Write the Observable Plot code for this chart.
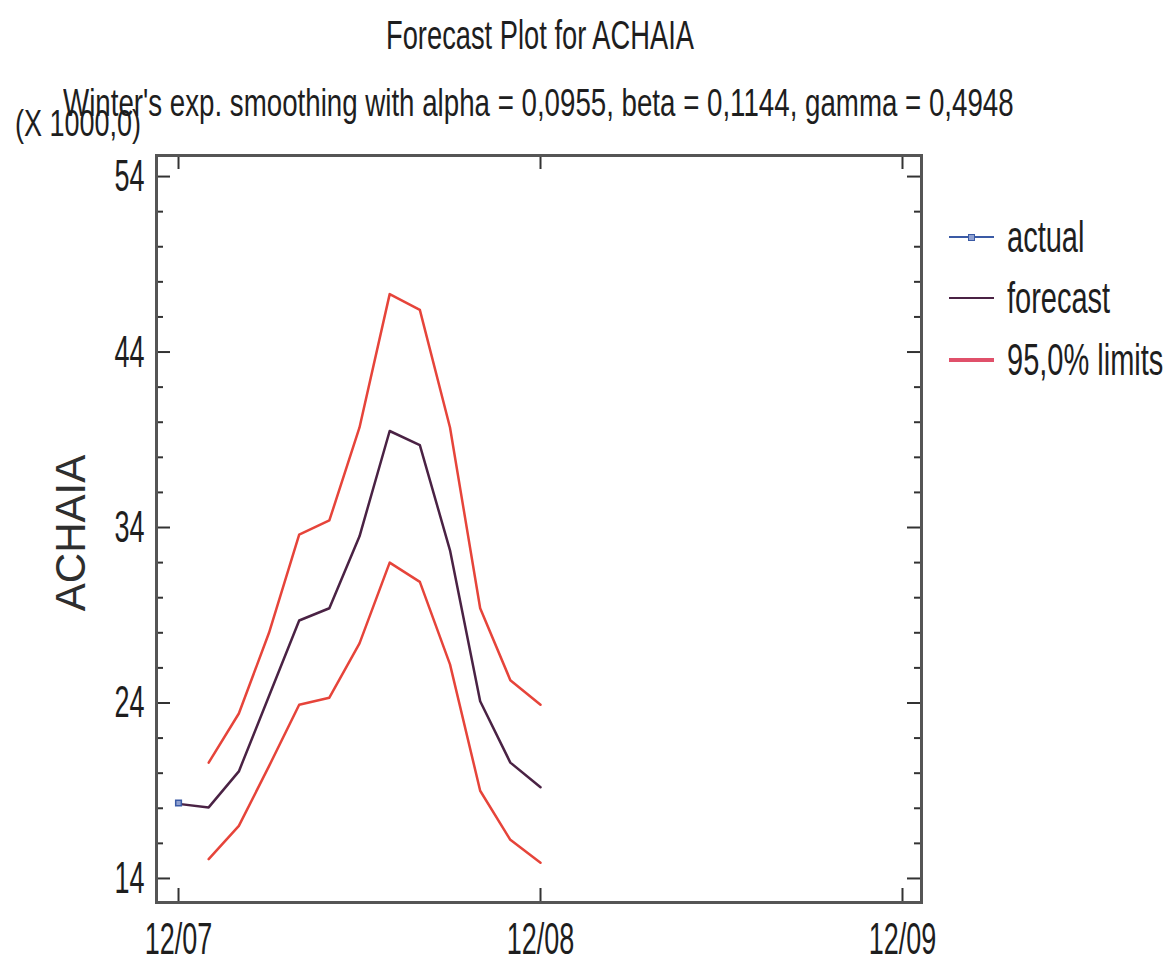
<!DOCTYPE html>
<html><head><meta charset="utf-8">
<script src="https://cdn.jsdelivr.net/npm/d3@7"></script>
<script src="https://cdn.jsdelivr.net/npm/@observablehq/plot@0.6"></script>
<style>
body{margin:0;background:#fff;font-family:"Liberation Sans",Arial,sans-serif;}
#wrap{position:relative;width:1176px;height:972px;overflow:hidden;background:#fff}
.t{position:absolute;white-space:nowrap;color:#1e1e1e;line-height:1;transform-origin:center center;}
.sw{position:absolute;height:0;}
#chart{position:absolute;left:0;top:140px;}
</style></head><body><div id="wrap">
<div class="t" id="title" style="left:540px;top:21px;font-size:27.3px;transform:translateX(-50%) scaleY(1.5)">Forecast Plot for ACHAIA</div>
<div class="t" id="xunit" style="left:15px;top:111px;font-size:27px;transform:scaleY(1.4);transform-origin:left center">(X 1000,0)</div>
<div class="t" id="subtitle" style="left:63px;top:89px;font-size:27.7px;transform:scaleY(1.4);transform-origin:left center">Winter's exp. smoothing with alpha = 0,0955, beta = 0,1144, gamma = 0,4948</div>
<div class="t" id="ylabel" style="left:71px;top:533px;font-size:42px;color:#2e2e2e;transform:translate(-50%,-50%) rotate(-90deg)">ACHAIA</div>
<div id="chart"></div>
<div id="legend"></div>
</div>
<script>
// ---- data ----
const monthIndex   = [0, 1, 2, 3, 4, 5, 6, 7, 8, 9, 10, 11, 12];
const actualMonth  = [0];
const actualValues = [18.3];
const forecast     = [18.25, 18.05, 20.1, 24.4, 28.7, 29.4, 33.5, 39.5, 38.7, 32.7, 24.1, 20.6, 19.2];
const upperLimit   = [null, 20.6, 23.4, 28.0, 33.6, 34.4, 39.7, 47.3, 46.4, 39.7, 29.4, 25.3, 23.9];
const lowerLimit   = [null, 15.1, 17.0, 20.4, 23.9, 24.3, 27.4, 32.0, 30.9, 26.2, 19.0, 16.2, 14.9];
const xTickPos     = [0, 12, 24];
const xTickLabels  = ["12/07", "12/08", "12/09"];
const yMajorTicks  = [14, 24, 34, 44, 54];
const yMinorTicks  = [16, 18, 20, 22, 26, 28, 30, 32, 36, 38, 40, 42, 46, 48, 50, 52];
const seriesNames  = ["actual", "forecast", "95,0% limits"];

// ---- styles ----
const colActual = "#3a5aa5", colForecast = "#4a2244", colLimits = "#e6443a", colLegendLimits = "#e0506a";
const W = 1176, H = 832, mL = 156, mR = 255, mT = 15, mB = 70;
const innerW = W - mL - mR, innerH = H - mT - mB;

const rows = arr => monthIndex.map((m, i) => ({m, v: arr[i]}));
const actualRows = actualMonth.map((m, i) => ({m, v: actualValues[i]}));

const plot = Plot.plot({
  width: W, height: H,
  marginLeft: mL, marginRight: mR, marginTop: mT, marginBottom: mB,
  style: {color: "#1e1e1e", fontFamily: "'Liberation Sans', Arial, sans-serif", background: "transparent"},
  x: {type: "linear", domain: [-0.73, 24.63]},
  y: {type: "linear", domain: [12.63, 55.2]},
  marks: [
    Plot.tickY(yMajorTicks, {y: d => d, insetRight: innerW - 14, stroke: "#333", strokeWidth: 2}),
    Plot.tickY(yMajorTicks, {y: d => d, insetLeft: innerW - 14, stroke: "#333", strokeWidth: 2}),
    Plot.tickY(yMinorTicks, {y: d => d, insetRight: innerW - 7, stroke: "#333", strokeWidth: 2}),
    Plot.tickY(yMinorTicks, {y: d => d, insetLeft: innerW - 7, stroke: "#333", strokeWidth: 2}),
    Plot.tickX(xTickPos, {x: d => d, insetTop: innerH - 14, stroke: "#333", strokeWidth: 2}),
    Plot.tickX(xTickPos, {x: d => d, insetBottom: innerH - 14, stroke: "#333", strokeWidth: 2}),
    Plot.line(rows(upperLimit), {x: "m", y: "v", stroke: colLimits, strokeWidth: 2.5}),
    Plot.line(rows(lowerLimit), {x: "m", y: "v", stroke: colLimits, strokeWidth: 2.5}),
    Plot.line(rows(forecast), {x: "m", y: "v", stroke: colForecast, strokeWidth: 2.5}),
    Plot.line(actualRows, {x: "m", y: "v", stroke: colActual, strokeWidth: 2}),
    Plot.dot(actualRows, {x: "m", y: "v", symbol: "square", r: 3.2, stroke: colActual, fill: "#8fa0d0", strokeWidth: 1.5}),
    Plot.frame({stroke: "#555", strokeWidth: 3}),
    Plot.axisY({ticks: yMajorTicks, tickSize: 0, tickPadding: 12, fontSize: 27, label: null, tickFormat: d => String(d)}),
    Plot.axisX({ticks: xTickPos, tickSize: 0, tickPadding: 26, fontSize: 27, label: null,
                tickFormat: d => xTickLabels[xTickPos.indexOf(d)]})
  ]
});
document.getElementById("chart").appendChild(plot);

// stretch tick labels vertically (about their own centre) to match the reference's tall glyphs
function stretch(nodes, sy) {
  for (const t of Array.from(nodes)) {
    const parent = t.parentNode;
    const r = t.getBoundingClientRect();
    const inv = parent.getScreenCTM().inverse();
    const p = new DOMPoint(r.x + r.width / 2, r.y + r.height / 2).matrixTransform(inv);
    const g = document.createElementNS("http://www.w3.org/2000/svg", "g");
    g.setAttribute("transform", `translate(${p.x},${p.y}) scale(1,${sy}) translate(${-p.x},${-p.y})`);
    parent.insertBefore(g, t);
    g.appendChild(t);
  }
}
stretch(plot.querySelectorAll('[aria-label="y-axis tick label"] text'), 1.65);
stretch(plot.querySelectorAll('[aria-label="x-axis tick label"] text'), 1.65);

// legend
const legend = document.getElementById("legend");
const legendY = [237, 298, 360];
const legendCol = [colActual, colForecast, colLegendLimits];
const legendW = [2, 2.5, 4];
seriesNames.forEach((name, i) => {
  const sw = document.createElement("div");
  sw.className = "sw";
  sw.style.cssText = `left:949px;width:45px;top:${legendY[i] - legendW[i] / 2}px;height:${legendW[i]}px;background:${legendCol[i]}`;
  legend.appendChild(sw);
  if (i === 0) {
    const mk = document.createElement("div");
    mk.className = "sw";
    mk.style.cssText = `left:968px;top:${legendY[i] - 3.5}px;width:5px;height:5px;border:1px solid ${colActual};background:#8fa0d0`;
    legend.appendChild(mk);
  }
  const tx = document.createElement("div");
  tx.className = "t";
  tx.textContent = name;
  tx.style.cssText = `left:1007px;top:${legendY[i] - 14.5}px;font-size:29px;transform:scaleY(1.5);transform-origin:left center`;
  legend.appendChild(tx);
});
</script>
</body></html>
